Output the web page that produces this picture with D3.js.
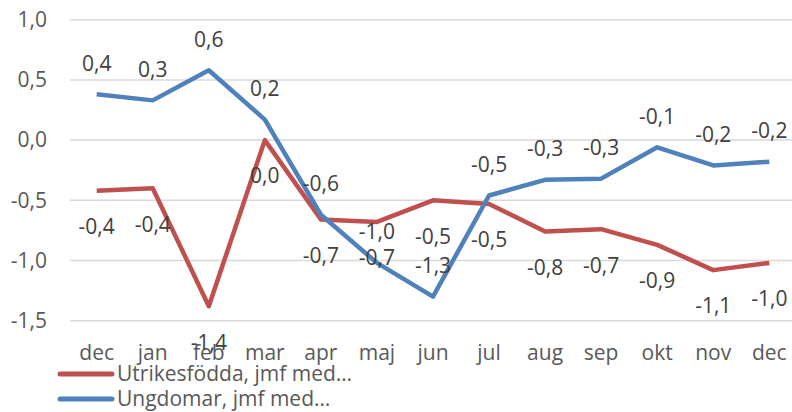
<!DOCTYPE html>
<html><head><meta charset="utf-8">
<script src="https://cdn.jsdelivr.net/npm/d3@7"></script>
<style>body{margin:0;background:#fff}svg{display:block}</style>
</head><body>
<svg id="c" width="792" height="412"></svg>
<script>
const categories = ["dec","jan","feb","mar","apr","maj","jun","jul","aug","sep","okt","nov","dec"];
const utrikesValues = [-0.42,-0.40,-1.38,0.0,-0.66,-0.68,-0.50,-0.53,-0.76,-0.74,-0.87,-1.08,-1.02];
const utrikesLabels = ["-0,4","-0,4","-1,4","0,0","-0,7","-0,7","-0,5","-0,5","-0,8","-0,7","-0,9","-1,1","-1,0"];
const ungdomValues = [0.38,0.33,0.58,0.17,-0.62,-1.02,-1.30,-0.46,-0.33,-0.32,-0.06,-0.21,-0.18];
const ungdomLabels = ["0,4","0,3","0,6","0,2","-0,6","-1,0","-1,3","-0,5","-0,3","-0,3","-0,1","-0,2","-0,2"];
const yTicks = [1.0,0.5,0.0,-0.5,-1.0,-1.5];
const yTickLabels = ["1,0","0,5","0,0","-0,5","-1,0","-1,5"];
const seriesNames = ["Utrikesfödda, jmf med…","Ungdomar, jmf med…"];
const colors = ["#C0504D","#4F81BD"];

const svg = d3.select("#c");
const font = "'Open Sans', sans-serif";
const fs = 21;
const textColor = "#595959";
const idx = d3.range(categories.length);
const x = d3.scalePoint().domain(idx).range([96.7, 769.3]);
const y = d3.scaleLinear().domain([-1.5, 1.0]).range([320.7, 19.7]);

// gridlines
svg.append("g").selectAll("line").data(yTicks).join("line")
  .attr("x1", 70).attr("x2", 792)
  .attr("y1", d => y(d)).attr("y2", d => y(d))
  .attr("stroke", "#D9D9D9").attr("stroke-width", 1.5);

// y labels
svg.append("g").selectAll("text").data(yTicks).join("text")
  .attr("x", 47).attr("y", d => y(d)).attr("dy", "0.35em")
  .attr("text-anchor", "end").attr("font-family", font).attr("font-size", fs)
  .attr("fill", textColor).text((d, i) => yTickLabels[i]);

// x labels
svg.append("g").selectAll("text").data(idx).join("text")
  .attr("x", d => x(d)).attr("y", 353).attr("dy", "0.35em")
  .attr("text-anchor", "middle").attr("font-family", font).attr("font-size", fs)
  .attr("fill", textColor).text(d => categories[d]);

const line = vals => d3.line().x(i => x(i)).y(i => y(vals[i]))(idx);

const series = [
  {vals: utrikesValues, labels: utrikesLabels, color: colors[0], off: 36},
  {vals: ungdomValues, labels: ungdomLabels, color: colors[1], off: -31}
];

series.forEach(s => {
  svg.append("path").attr("d", line(s.vals)).attr("fill", "none")
    .attr("stroke", s.color).attr("stroke-width", 4.5)
    .attr("stroke-linejoin", "round").attr("stroke-linecap", "butt");
});
series.forEach(s => {
  svg.append("g").selectAll("text").data(idx).join("text")
    .attr("x", i => x(i)).attr("y", i => y(s.vals[i]) + s.off).attr("dy", "0.35em")
    .attr("text-anchor", "middle").attr("font-family", font).attr("font-size", fs)
    .attr("fill", "#404040").text(i => s.labels[i]);
});

// legend
const leg = svg.append("g");
seriesNames.forEach((n, i) => {
  const ly = 374 + i * 25;
  leg.append("line").attr("x1", 60).attr("x2", 112).attr("y1", ly).attr("y2", ly)
    .attr("stroke", colors[i]).attr("stroke-width", 5).attr("stroke-linecap", "round");
  leg.append("text").attr("x", 117).attr("y", ly).attr("dy", "0.35em")
    .attr("font-family", font).attr("font-size", fs).attr("fill", textColor).text(n);
});
</script>
</body></html>
